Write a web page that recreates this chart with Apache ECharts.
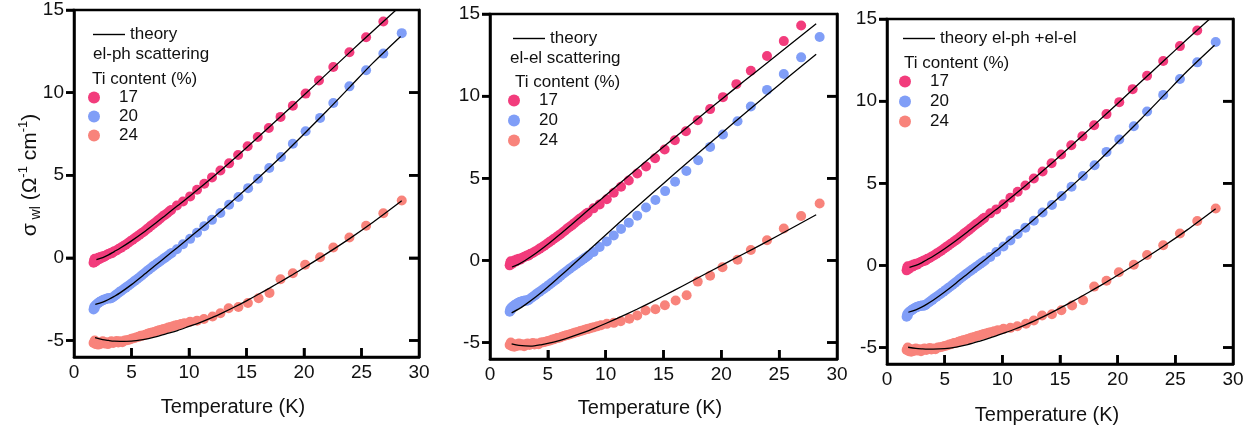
<!DOCTYPE html>
<html><head><meta charset="utf-8">
<script src="https://cdn.jsdelivr.net/npm/echarts@6/dist/echarts.min.js"></script>
<style>html,body{margin:0;padding:0;background:#fff}#c{width:1260px;height:430px}</style>
</head><body><div id="c"></div>
<script>
// ---- measured data (same samples in all three panels) ----
const xTicks = [0, 5, 10, 15, 20, 25, 30];
const yTicks = [-5, 0, 5, 10, 15];
const seriesNames = ['17', '20', '24'];
const colors = ['#F23C7C', '#809EF7', '#F8837B'];

const data17 = [[1.7,-0.3],[1.75,-0.15],[1.8,-0.05],[1.9,-0.22],[2.0,-0.1],[2.1,0.0],[2.2,-0.08],[2.3,0.05],[2.4,0.0],[2.5,0.1],[2.6,0.05],[2.7,0.12],[2.8,0.15],[2.9,0.2],[3.0,0.22],[3.1,0.25],[3.2,0.3],[3.3,0.28],[3.4,0.35],[3.5,0.4],[3.7,0.45],[3.9,0.55],[4.1,0.62],[4.3,0.72],[4.5,0.8],[4.7,0.9],[4.9,1.0],[5.1,1.1],[5.3,1.2],[5.5,1.3],[5.7,1.4],[5.9,1.5],[6.1,1.6],[6.3,1.72],[6.5,1.82],[6.7,1.95],[6.9,2.05],[7.1,2.15],[7.3,2.27],[7.5,2.38],[7.7,2.5],[7.9,2.6],[8.1,2.7],[8.3,2.82],[8.45,2.9],[8.95,3.17],[9.48,3.41],[10.1,3.72],[10.7,4.12],[11.33,4.48],[12.0,4.87],[12.73,5.29],[13.49,5.72],[14.27,6.22],[15.1,6.75],[15.98,7.31],[16.94,7.86],[17.96,8.53],[19.03,9.21],[20.14,9.94],[21.3,10.73],[22.55,11.55],[23.95,12.44],[25.4,13.35],[26.9,14.3]];

const data20 = [[1.7,-3.12],[1.75,-2.98],[1.8,-3.05],[1.85,-2.88],[1.95,-2.82],[2.05,-2.76],[2.15,-2.72],[2.25,-2.66],[2.35,-2.62],[2.45,-2.58],[2.55,-2.55],[2.65,-2.52],[2.75,-2.5],[2.85,-2.47],[2.95,-2.45],[3.05,-2.44],[3.15,-2.46],[3.25,-2.43],[3.35,-2.4],[3.5,-2.32],[3.65,-2.24],[3.8,-2.16],[3.95,-2.08],[4.1,-2.0],[4.3,-1.9],[4.5,-1.8],[4.7,-1.7],[4.9,-1.6],[5.1,-1.49],[5.3,-1.38],[5.5,-1.28],[5.7,-1.17],[5.9,-1.06],[6.1,-0.95],[6.3,-0.83],[6.5,-0.72],[6.7,-0.61],[6.9,-0.5],[7.1,-0.4],[7.3,-0.3],[7.5,-0.2],[7.7,-0.1],[7.9,0.0],[8.1,0.1],[8.3,0.2],[8.5,0.3],[8.95,0.52],[9.48,0.82],[10.1,1.15],[10.7,1.52],[11.33,1.92],[12.0,2.3],[12.73,2.72],[13.49,3.22],[14.3,3.68],[15.14,4.22],[16.0,4.79],[16.98,5.44],[18.0,6.1],[19.03,6.91],[20.14,7.66],[21.4,8.47],[22.55,9.37],[23.95,10.38],[25.4,11.35],[26.9,12.36],[28.5,13.6]];

const data24 = [[1.7,-5.15],[1.8,-5.0],[1.9,-5.22],[2.0,-5.1],[2.1,-5.25],[2.2,-5.12],[2.35,-5.2],[2.5,-5.05],[2.65,-5.18],[2.8,-5.1],[2.95,-5.22],[3.1,-5.12],[3.25,-5.05],[3.4,-5.15],[3.55,-5.1],[3.7,-5.03],[3.85,-5.12],[4.0,-5.05],[4.2,-5.1],[4.4,-5.0],[4.6,-4.98],[4.8,-4.95],[5.0,-4.9],[5.2,-4.87],[5.4,-4.82],[5.6,-4.78],[5.8,-4.72],[6.0,-4.7],[6.2,-4.65],[6.4,-4.6],[6.6,-4.55],[6.8,-4.52],[7.0,-4.48],[7.2,-4.43],[7.4,-4.38],[7.6,-4.35],[7.8,-4.3],[8.0,-4.27],[8.2,-4.22],[8.4,-4.18],[8.6,-4.14],[8.8,-4.1],[9.0,-4.07],[9.3,-4.0],[9.6,-3.95],[10.1,-3.86],[10.7,-3.8],[11.3,-3.7],[12.05,-3.55],[12.73,-3.35],[13.45,-3.05],[14.3,-2.97],[15.12,-2.73],[16.05,-2.44],[17.0,-2.12],[17.96,-1.29],[19.03,-0.93],[20.1,-0.42],[21.4,0.04],[22.55,0.63],[23.95,1.23],[25.4,1.94],[26.9,2.7],[28.5,3.47]];

// theory curves: el-ph (panel 1)
const ph17 = [[1.95,-0.1],[2.5,0.02],[3,0.18],[3.5,0.38],[4,0.58],[5,1.03],[6,1.52],[7,2.05],[8,2.6],[9,3.15],[10,3.7],[12,4.85],[14,6.05],[16,7.3],[18,8.57],[20,9.85],[22,11.15],[24,12.45],[26,13.73],[28,15.0],[28.5,15.3]];
const ph20 = [[1.85,-2.82],[2.5,-2.68],[3,-2.52],[3.5,-2.33],[4,-2.12],[5,-1.62],[6,-1.07],[7,-0.5],[8,0.07],[9,0.63],[10,1.2],[12,2.35],[14,3.57],[16,4.82],[18,6.12],[20,7.5],[22,8.9],[24,10.35],[26,11.8],[28.4,13.4]];
const ph24 = [[1.83,-4.83],[2.5,-4.95],[3,-5.0],[3.5,-5.04],[4,-5.05],[5,-5.04],[6,-4.95],[7,-4.8],[8,-4.6],[9,-4.4],[10,-4.15],[11,-3.9],[12,-3.62],[13,-3.3],[14,-2.96],[15,-2.6],[16,-2.22],[17,-1.83],[18,-1.43],[19,-1.02],[20,-0.6],[22,0.27],[24,1.18],[26,2.15],[28.5,3.45]];
// theory curves: el-el (panel 2)
const el17 = [[1.9,-0.4],[2.5,-0.22],[3,-0.02],[4,0.45],[5,0.98],[6,1.56],[7,2.16],[8,2.77],[9,3.37],[10,3.97],[12,5.16],[14,6.34],[16,7.5],[18,8.65],[20,9.8],[22,10.93],[24,12.05],[26,13.17],[28.2,14.4]];
const el20 = [[1.87,-3.19],[2.5,-2.95],[3,-2.72],[4,-2.2],[5,-1.62],[6,-1.0],[7,-0.37],[8,0.27],[9,0.91],[10,1.55],[12,2.82],[14,4.07],[16,5.3],[18,6.52],[20,7.73],[22,8.93],[24,10.11],[26,11.28],[28.2,12.55]];
const el24 = [[1.87,-5.08],[2.5,-5.17],[3.5,-5.22],[4.5,-5.12],[5.5,-4.97],[6.5,-4.77],[7.8,-4.46],[9,-4.13],[10,-3.84],[11,-3.53],[12.7,-2.97],[14,-2.52],[15.8,-1.87],[17.5,-1.24],[19.3,-0.57],[21,0.06],[22.8,0.72],[25,1.55],[28.2,2.78]];
// theory curves: el-ph + el-el (panel 3)
const mix17 = [[1.95,-0.12],[2.5,0.0],[3,0.16],[3.5,0.36],[4,0.56],[5,1.02],[6,1.52],[7,2.05],[8,2.6],[9,3.15],[10,3.7],[12,4.85],[14,6.05],[16,7.3],[18,8.57],[20,9.86],[22,11.16],[24,12.46],[26,13.75],[28,15.02]];
const mix20 = [[1.85,-2.85],[2.5,-2.7],[3,-2.54],[3.5,-2.34],[4,-2.12],[5,-1.62],[6,-1.07],[7,-0.5],[8,0.07],[9,0.63],[10,1.2],[12,2.35],[14,3.57],[16,4.82],[18,6.12],[20,7.5],[22,8.9],[24,10.35],[26,11.8],[28.4,13.4]];
const mix24 = [[1.83,-4.98],[2.5,-5.05],[3,-5.08],[3.5,-5.1],[4,-5.1],[5,-5.07],[6,-4.97],[7,-4.82],[8,-4.62],[9,-4.4],[10,-4.15],[11,-3.9],[12,-3.62],[13,-3.3],[14,-2.96],[15,-2.6],[16,-2.22],[17,-1.83],[18,-1.43],[19,-1.02],[20,-0.6],[22,0.27],[24,1.18],[26,2.15],[28.5,3.45]];

const panelTitles = ['el-ph scattering', 'el-el scattering', ''];
const theoryLabels = ['{name}', '{name}', '{name} el-ph +el-el'];
const contentLabel = 'Ti content (%)';
const xName = 'Temperature (K)';
const yName = '{m|σ}{s| wl}{m| (Ω}{p|-1}{m| cm}{p|-1}{m|)}';

// ---- layout ----
const FF = '"Liberation Sans", Arial, sans-serif';
const TXT = '#111';
const grids = [
  {left: 74, top: 10, width: 345, height: 347},
  {left: 490, top: 14, width: 347, height: 345},
  {left: 887, top: 19, width: 346, height: 345}
];
const dataSets = [data17, data20, data24];
const theorySets = [[ph17, ph20, ph24], [el17, el20, el24], [mix17, mix20, mix24]];
const xTickVals = [5, 10, 15, 20, 25];
const yTickVals = [-5, 0, 5, 10, 15];
const yRightTickVals = [-5, 0, 5, 10];

const option = {
  animation: false,
  backgroundColor: '#fff',
  grid: grids.map(g => Object.assign({show: true, borderColor: '#000', borderWidth: 2.5}, g)),
  xAxis: [], yAxis: [], legend: [], graphic: [], series: []
};

grids.forEach((g, i) => {
  option.xAxis.push({
    type: 'value', gridIndex: i, min: 0, max: 30, position: 'bottom', z: 10,
    axisLine: {show: true, onZero: false, lineStyle: {color: '#000', width: 2.5}},
    axisTick: {show: true, inside: true, length: 9, lineStyle: {color: '#000', width: 2.5}, customValues: xTickVals},
    axisLabel: {customValues: xTicks, margin: 6, fontSize: 19, color: TXT, fontFamily: FF},
    splitLine: {show: false}
  });
  option.yAxis.push({
    type: 'value', gridIndex: i, min: -6, max: 15, position: 'left', z: 10,
    axisLine: {show: true, onZero: false, lineStyle: {color: '#000', width: 2.5}},
    axisTick: {show: true, inside: false, length: 8, lineStyle: {color: '#000', width: 2.5}, customValues: yTickVals},
    axisLabel: {customValues: yTicks, margin: 10, fontSize: 19, color: TXT, fontFamily: FF},
    splitLine: {show: false}
  });
  option.yAxis.push({
    type: 'value', gridIndex: i, min: -6, max: 15, position: 'right', z: 10,
    axisLine: {show: true, onZero: false, lineStyle: {color: '#000', width: 2.5}},
    axisTick: {show: true, inside: true, length: 10, lineStyle: {color: '#000', width: 2.5}, customValues: yRightTickVals},
    axisLabel: {show: false}, splitLine: {show: false}
  });

  seriesNames.forEach((nm, k) => {
    option.series.push({
      type: 'scatter', name: nm, xAxisIndex: i, yAxisIndex: i * 2,
      data: dataSets[k], symbol: 'circle', symbolSize: 10,
      itemStyle: {color: colors[k], opacity: 1}, z: 2
    });
  });
  theorySets[i].forEach(curve => {
    option.series.push({
      type: 'line', name: 'theory', xAxisIndex: i, yAxisIndex: i * 2,
      data: curve, smooth: 0.3, symbol: 'none',
      lineStyle: {color: '#000', width: 1.3}, itemStyle: {color: '#000'}, z: 3
    });
  });
});

// legends (per panel)
const legTheory = [{left: 93, top: 26}, {left: 513, top: 30}, {left: 903, top: 30}];
const legSeries = [{left: 88, top: 89}, {left: 508, top: 92}, {left: 899, top: 73}];
const legGap = [2, 3, 3];
legTheory.forEach((p, i) => {
  option.legend.push({
    data: [{name: 'theory', icon: 'rect'}], left: p.left, top: p.top, padding: 0,
    selectedMode: false, itemWidth: 32, itemHeight: 1.4,
    formatter: theoryLabels[i],
    textStyle: {fontSize: 17, color: TXT, fontFamily: FF}
  });
  option.legend.push({
    data: seriesNames, orient: 'vertical', left: legSeries[i].left, top: legSeries[i].top, padding: 0,
    selectedMode: false, icon: 'circle', itemWidth: 40, itemHeight: 12, itemGap: legGap[i],
    textStyle: {fontSize: 17, color: TXT, fontFamily: FF}
  });
});
// legend header texts
const headers = [
  {x: 93, y: 54, t: panelTitles[0]}, {x: 92, y: 79, t: contentLabel},
  {x: 510, y: 58, t: panelTitles[1]}, {x: 515, y: 82, t: contentLabel},
  {x: 904, y: 63, t: contentLabel}
];
headers.forEach(h => option.graphic.push({
  type: 'text', x: h.x, y: h.y, z: 10,
  style: {text: h.t, fontSize: 17, fontFamily: FF, fill: TXT, verticalAlign: 'middle'}
}));
// axis titles
[{x: 233, y: 407}, {x: 650, y: 408}, {x: 1047, y: 415}].forEach(p => option.graphic.push({
  type: 'text', x: p.x, y: p.y, z: 10,
  style: {text: xName, fontSize: 20, fontFamily: FF, fill: TXT, align: 'center', verticalAlign: 'middle'}
}));
option.graphic.push({
  type: 'text', x: 30, y: 175, rotation: Math.PI / 2, z: 10,
  style: {
    text: yName, align: 'center', verticalAlign: 'middle', fill: TXT, fontFamily: FF, fontSize: 21,
    rich: {
      m: {fontSize: 21, lineHeight: 26, fontFamily: FF, fill: TXT},
      s: {fontSize: 14, lineHeight: 14, verticalAlign: 'bottom', fontFamily: FF, fill: TXT},
      p: {fontSize: 13, lineHeight: 13, verticalAlign: 'top', fontFamily: FF, fill: TXT}
    }
  }
});

const chart = echarts.init(document.getElementById('c'), null, {renderer: 'canvas'});
chart.setOption(option);

// tick marks placed through each panel's own axis scales (backup for the axis ticks)
try {
  const tickLines = [];
  grids.forEach((g, i) => {
    const px = v => chart.convertToPixel({xAxisIndex: i}, v);
    const py = v => chart.convertToPixel({yAxisIndex: i * 2}, v);
    const xL = px(0), xR = px(30), yB = py(-6);
    if (![xL, xR, yB].every(Number.isFinite)) return;
    xTickVals.forEach(v => tickLines.push({x1: px(v), y1: yB, x2: px(v), y2: yB - 9}));
    yTickVals.forEach(v => tickLines.push({x1: xL - 8, y1: py(v), x2: xL, y2: py(v)}));
    yRightTickVals.forEach(v => tickLines.push({x1: xR - 10, y1: py(v), x2: xR, y2: py(v)}));
  });
  if (tickLines.length) {
    const extra = tickLines.map(s => ({type: 'line', z: 9, shape: s, style: {stroke: '#000', lineWidth: 2.5}}));
    chart.setOption({graphic: option.graphic.concat(extra)});
  }
} catch (e) { /* keep the chart as drawn */ }
</script></body></html>
